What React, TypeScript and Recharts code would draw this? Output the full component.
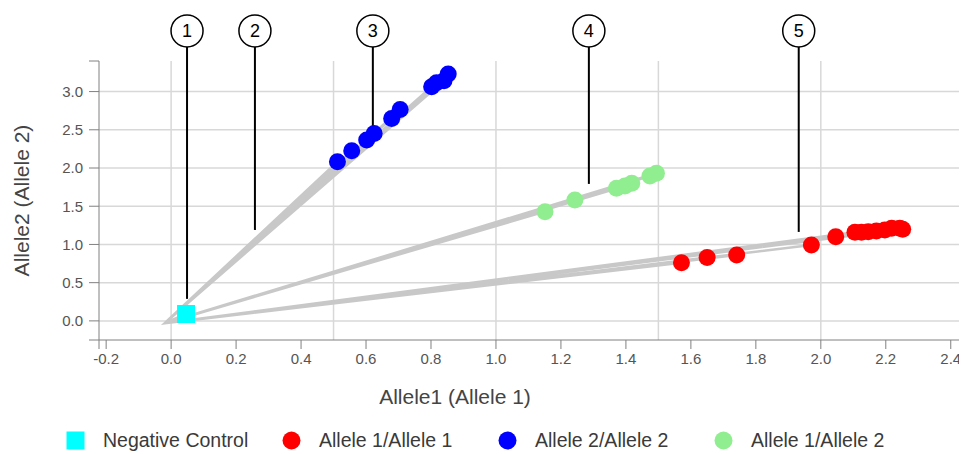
import React from "react";
import {
  ScatterChart,
  Scatter,
  XAxis,
  YAxis,
  CartesianGrid,
  Legend,
  ReferenceLine,
  ReferenceDot,
  Label,
} from "recharts";

// cluster values
const negX = [0.046];
const negY = [0.09];

const a11X = [1.571, 1.65, 1.741, 1.971, 2.046, 2.105, 2.125, 2.146, 2.171, 2.197, 2.218, 2.243, 2.252];
const a11Y = [0.762, 0.828, 0.863, 0.993, 1.102, 1.159, 1.159, 1.167, 1.176, 1.19, 1.212, 1.212, 1.2];

const a22X = [0.512, 0.556, 0.602, 0.625, 0.679, 0.705, 0.802, 0.817, 0.84, 0.853];
const a22Y = [2.082, 2.226, 2.366, 2.453, 2.649, 2.767, 3.063, 3.115, 3.141, 3.229];

const a12X = [1.151, 1.243, 1.371, 1.397, 1.418, 1.474, 1.494];
const a12Y = [1.429, 1.582, 1.735, 1.765, 1.8, 1.895, 1.931];

const origin = { x: -0.02, y: -0.03 };

const xDomain = [-0.222, 2.45];
const yDomain = [-0.25, 3.4];
const xTicks = [-0.2, 0, 0.2, 0.4, 0.6, 0.8, 1.0, 1.2, 1.4, 1.6, 1.8, 2.0, 2.2, 2.4];
const yTicks = [0, 0.5, 1.0, 1.5, 2.0, 2.5, 3.0];
const gridX = [0, 0.5, 1.0, 1.5, 2.0];

// numbered callouts: x position, where the pointer stops
const calloutLabels = ["1", "2", "3", "4", "5"];
const calloutX = [0.049, 0.258, 0.621, 1.286, 1.932];
const calloutEndY = [0.288, 1.19, 2.525, 1.792, 1.164];
const calloutTopY = 3.585;
const calloutCircleY = 3.794;

const toPoints = (xs: number[], ys: number[]) => xs.map((x, i) => ({ x, y: ys[i] }));

const series = [
  { name: "Negative Control", color: "#00ffff", square: true, data: toPoints(negX, negY) },
  { name: "Allele 1/Allele 1", color: "#ff0000", square: false, data: toPoints(a11X, a11Y) },
  { name: "Allele 2/Allele 2", color: "#0000ff", square: false, data: toPoints(a22X, a22Y) },
  { name: "Allele 1/Allele 2", color: "#90ee90", square: false, data: toPoints(a12X, a12Y) },
];

// origin, point, origin, point... so the line draws a ray to every point
const rays = series.flatMap((s) => s.data.flatMap((p) => [origin, p]));

const FONT = "'Liberation Sans', Arial, sans-serif";

// unlabeled ticks at the axis ends, like the original
const fmt = (labels: number[]) => (v: number) => (labels.includes(v) ? v.toFixed(1) : "");

const renderLegend = () => (
  <div style={{ height: 24, display: "flex", paddingLeft: 58, fontFamily: FONT }}>
    {series.map((s) => (
      <div key={s.name} style={{ width: 216, display: "flex", alignItems: "center", height: 24 }}>
        <svg width={19} height={19} style={{ marginRight: 18 }}>
          {s.square ? (
            <rect x={0.5} y={0.5} width={18} height={18} fill={s.color} />
          ) : (
            <circle cx={9.5} cy={9.5} r={9} fill={s.color} />
          )}
        </svg>
        <span style={{ fontSize: 19.5, color: "#3a3a3a", whiteSpace: "nowrap" }}>{s.name}</span>
      </div>
    ))}
  </div>
);

const App = () => {
  return (
    <div style={{ fontFamily: FONT }}>
      <ScatterChart
        width={959}
        height={446}
        margin={{ top: 53, right: 0, left: 0, bottom: 2 }}
      >
        <CartesianGrid stroke="#d8d8d8" strokeWidth={1.5} verticalValues={gridX} horizontalValues={yTicks} />
        <XAxis
          type="number"
          dataKey="x"
          domain={xDomain}
          ticks={[xDomain[0], ...xTicks]}
          interval={0}
          allowDataOverflow
          height={88}
          tickSize={9}
          tickMargin={4}
          tickFormatter={fmt(xTicks)}
          tick={{ fontSize: 15, fill: "#555" }}
          stroke="#808080"
        >
          <Label
            value="Allele1 (Allele 1)"
            position="insideTop"
            offset={49}
            dx={-78}
            style={{ fontSize: 21, fill: "#444", fontFamily: FONT }}
          />
        </XAxis>
        <YAxis
          type="number"
          dataKey="y"
          domain={yDomain}
          ticks={[yDomain[0], ...yTicks, yDomain[1]]}
          interval={0}
          allowDataOverflow
          width={91}
          tickSize={10}
          tickMargin={6}
          tickFormatter={fmt(yTicks)}
          tick={{ fontSize: 15, fill: "#555" }}
          stroke="#808080"
        >
          <Label
            value="Allele2 (Allele 2)"
            angle={-90}
            position="insideLeft"
            offset={14}
            style={{ fontSize: 21, fill: "#444", textAnchor: "middle", fontFamily: FONT }}
          />
        </YAxis>
        <Legend verticalAlign="bottom" content={renderLegend} />
        <Scatter
          name="rays"
          data={rays}
          legendType="none"
          line={{ stroke: "#c8c8c8", strokeWidth: 2.5 }}
          shape={() => <g />}
          isAnimationActive={false}
        />
        {series.map((s) => (
          <Scatter
            key={s.name}
            name={s.name}
            data={s.data}
            fill={s.color}
            isAnimationActive={false}
            shape={(p: any) =>
              s.square ? (
                <rect x={p.cx - 9} y={p.cy - 9} width={18} height={18} fill={s.color} />
              ) : (
                <circle cx={p.cx} cy={p.cy} r={8.5} fill={s.color} />
              )
            }
          />
        ))}
        {calloutLabels.map((c, i) => (
          <ReferenceLine
            key={"l" + c}
            segment={[
              { x: calloutX[i], y: calloutTopY },
              { x: calloutX[i], y: calloutEndY[i] },
            ]}
            stroke="#000"
            strokeWidth={2}
            ifOverflow="visible"
          />
        ))}
        {calloutLabels.map((c, i) => (
          <ReferenceDot
            key={"d" + c}
            x={calloutX[i]}
            y={calloutCircleY}
            r={16}
            fill="#fff"
            stroke="#000"
            strokeWidth={1.5}
            ifOverflow="visible"
            label={{ value: c, position: "center", fontSize: 18, fill: "#000", fontFamily: FONT }}
          />
        ))}
      </ScatterChart>
    </div>
  );
};

export default App;
